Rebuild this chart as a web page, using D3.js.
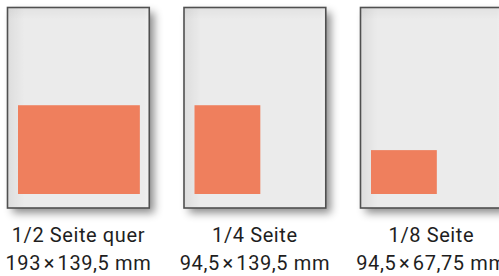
<!DOCTYPE html>
<html><head><meta charset="utf-8">
<script src="https://cdn.jsdelivr.net/npm/d3@7"></script>
<style>
html,body{margin:0;padding:0;background:#fff;overflow:hidden}
svg{display:block}
</style></head>
<body>
<script>
// ---- data ----
const formats = ["1/2 Seite quer", "1/4 Seite", "1/8 Seite"];
const sizeLabels = ["193\u200a×\u200a139,5 mm", "94,5\u200a×\u200a139,5 mm", "94,5\u200a×\u200a67,75 mm"];
// page (A4) in mm
const pageSize = [210, 297];
// drawn ad box size (mm-like units)
const adWidth = [180.5, 97.5, 97.5];
const adHeight = [131.5, 131.5, 65];

(function () {
const W = 499, H = 276;
const svg = d3.select("body").append("svg").attr("width", W).attr("height", H);

const mm = d3.scaleLinear().domain([0, 297]).range([0, 200.5]);
const x = d3.scaleBand().domain(formats).range([7.5, 7.5 + 3 * 176.5]).paddingInner(0).paddingOuter(0);

const defs = svg.append("defs");
const f = defs.append("filter").attr("id", "shadow").attr("x", "-20%").attr("y", "-20%").attr("width", "150%").attr("height", "150%");
f.append("feDropShadow").attr("dx", 5).attr("dy", 5).attr("stdDeviation", 4).attr("flood-color", "#000").attr("flood-opacity", 0.45);

const gl = defs.append("linearGradient").attr("id", "gl").attr("x1", 0).attr("x2", 1).attr("y1", 0).attr("y2", 0);
gl.append("stop").attr("offset", 0).attr("stop-color", "#000").attr("stop-opacity", 0.06);
gl.append("stop").attr("offset", 0.12).attr("stop-color", "#000").attr("stop-opacity", 0);
const gt = defs.append("linearGradient").attr("id", "gt").attr("x1", 0).attr("x2", 0).attr("y1", 0).attr("y2", 1);
gt.append("stop").attr("offset", 0).attr("stop-color", "#000").attr("stop-opacity", 0.04);
gt.append("stop").attr("offset", 0.06).attr("stop-color", "#000").attr("stop-opacity", 0);
const gr = defs.append("linearGradient").attr("id", "gr").attr("x1", 1).attr("x2", 0).attr("y1", 0).attr("y2", 0);
gr.append("stop").attr("offset", 0).attr("stop-color", "#fff").attr("stop-opacity", 0.25);
gr.append("stop").attr("offset", 0.04).attr("stop-color", "#fff").attr("stop-opacity", 0);

const pw = mm(pageSize[0]), ph = mm(pageSize[1]);
const pageTop = 7.5;

const g = svg.selectAll("g.page").data(formats).join("g").attr("class", "page")
  .attr("transform", d => `translate(${x(d)},${pageTop})`);

g.append("rect").attr("width", pw).attr("height", ph).attr("fill", "#ebebeb").attr("filter", "url(#shadow)");
g.append("rect").attr("width", pw).attr("height", ph).attr("fill", "url(#gl)");
g.append("rect").attr("width", pw).attr("height", ph).attr("fill", "url(#gt)");
g.append("rect").attr("width", pw).attr("height", ph).attr("fill", "url(#gr)");

const inL = 10.5, inB = 14;
g.append("rect")
  .attr("x", inL)
  .attr("y", (d, i) => ph - inB - mm(adHeight[i]))
  .attr("width", (d, i) => mm(adWidth[i]))
  .attr("height", (d, i) => mm(adHeight[i]))
  .attr("fill", "#ef7f5d");

g.append("rect").attr("width", pw).attr("height", ph).attr("fill", "none")
  .attr("stroke", "#505050").attr("stroke-width", 1.6);

const textStyle = sel => sel
  .attr("text-anchor", "middle")
  .attr("font-family", "Roboto, sans-serif")
  .attr("font-size", 20)
  .attr("letter-spacing", 0.6)
  .attr("fill", "#1e1e1e");

svg.selectAll("text.lbl").data(formats).join("text").attr("class", "lbl")
  .attr("x", d => x(d) + pw / 2)
  .attr("y", 242)
  .call(textStyle)
  .text(d => d);
svg.selectAll("text.size").data(sizeLabels).join("text").attr("class", "size")
  .attr("x", (d, i) => x(formats[i]) + pw / 2)
  .attr("y", 270)
  .call(textStyle)
  .text(d => d);
})();
</script>
</body></html>
